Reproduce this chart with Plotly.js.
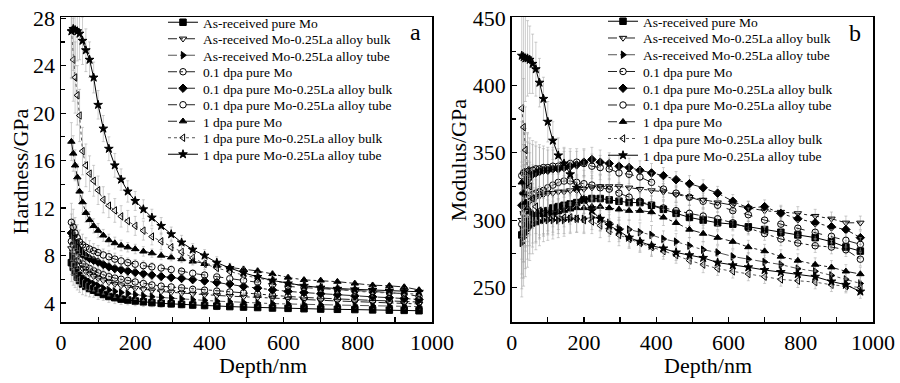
<!DOCTYPE html>
<html>
<head>
<meta charset="utf-8">
<script src="https://cdn.plot.ly/plotly-3.0.1.min.js"></script>
<style>
  html, body { margin: 0; padding: 0; background: #fff; }
  #chart { width: 900px; height: 383px; }
</style>
</head>
<body>
<div id="chart"></div>
<script>
// ---------------- data ----------------
var depth = [28, 33, 38, 44, 50, 58, 67, 77, 88, 100, 114, 129, 145, 162, 180, 200, 222, 245, 270, 297, 325, 355, 387, 420, 455, 492, 530, 570, 612, 655, 700, 745, 792, 840, 885, 925, 965];

var seriesNames = ['As-received pure Mo', 'As-received Mo-0.25La alloy bulk', 'As-received Mo-0.25La alloy tube',
  '0.1 dpa pure Mo', '0.1 dpa pure Mo-0.25La alloy bulk', '0.1 dpa pure Mo-0.25La alloy tube',
  '1 dpa pure Mo', '1 dpa pure Mo-0.25La alloy bulk', '1 dpa pure Mo-0.25La alloy tube'];

var xTitle = 'Depth/nm';
var yTitleA = 'Hardness/GPa';
var yTitleB = 'Modulus/GPa';

// Hardness (GPa), panel a
var hAsPure = [7.4, 7.0, 6.6, 6.2, 5.9, 5.6, 5.4, 5.22, 5.08, 4.9, 4.72, 4.55, 4.45, 4.33, 4.25, 4.17, 4.1, 4.03, 3.97, 3.93, 3.88, 3.83, 3.79, 3.74, 3.7, 3.66, 3.62, 3.58, 3.55, 3.52, 3.49, 3.47, 3.45, 3.42, 3.4, 3.38, 3.35];
var hAsBulk = [8.6, 8.3, 7.9, 7.5, 7.2, 6.9, 6.65, 6.45, 6.25, 6.08, 5.9, 5.75, 5.6, 5.47, 5.35, 5.25, 5.15, 5.05, 4.97, 4.9, 4.83, 4.76, 4.7, 4.64, 4.58, 4.52, 4.46, 4.4, 4.34, 4.28, 4.22, 4.17, 4.12, 4.07, 4.02, 3.97, 3.92];
var hAsTube = [8.0, 7.8, 7.3, 6.9, 6.5, 6.2, 5.95, 5.78, 5.62, 5.45, 5.25, 5.1, 4.98, 4.88, 4.8, 4.7, 4.6, 4.53, 4.47, 4.4, 4.34, 4.27, 4.22, 4.16, 4.1, 4.05, 4.0, 3.95, 3.92, 3.88, 3.85, 3.82, 3.8, 3.77, 3.74, 3.72, 3.7];
var h01Pure = [9.2, 8.9, 8.4, 8.0, 7.65, 7.3, 7.05, 6.9, 6.72, 6.55, 6.38, 6.22, 6.1, 6.0, 5.9, 5.77, 5.64, 5.52, 5.42, 5.35, 5.28, 5.15, 5.08, 5.0, 4.93, 4.85, 4.75, 4.65, 4.55, 4.47, 4.4, 4.34, 4.28, 4.22, 4.18, 4.12, 4.08];
var h01Bulk = [9.9, 9.6, 9.1, 8.7, 8.4, 8.15, 7.95, 7.75, 7.6, 7.45, 7.25, 7.05, 6.9, 6.8, 6.7, 6.58, 6.47, 6.35, 6.24, 6.15, 6.07, 5.97, 5.86, 5.73, 5.6, 5.4, 5.25, 5.1, 4.98, 4.88, 4.78, 4.7, 4.6, 4.52, 4.45, 4.38, 4.3];
var h01Tube = [10.8, 10.4, 9.9, 9.5, 9.15, 8.9, 8.7, 8.55, 8.4, 8.25, 8.05, 7.9, 7.7, 7.55, 7.4, 7.27, 7.15, 7.05, 6.95, 6.82, 6.68, 6.5, 6.35, 6.2, 6.05, 5.9, 5.75, 5.55, 5.4, 5.3, 5.2, 5.12, 5.05, 4.98, 4.9, 4.78, 4.55];
var h1Pure  = [17.6, 16.6, 15.6, 14.6, 13.4, 12.5, 11.6, 11.0, 10.5, 10.1, 9.7, 9.3, 9.05, 8.85, 8.7, 8.55, 8.35, 8.2, 8.0, 7.85, 7.7, 7.5, 7.3, 7.15, 7.0, 6.85, 6.7, 6.45, 6.15, 5.95, 5.9, 5.8, 5.65, 5.5, 5.45, 5.35, 5.1];
var h1Bulk  = [27.0, 24.5, 23.0, 21.5, 19.8, 16.8, 15.6, 14.9, 14.3, 13.5, 12.7, 12.2, 11.8, 11.3, 10.9, 10.5, 10.1, 9.6, 9.2, 8.7, 8.3, 7.8, 7.3, 6.95, 6.65, 6.35, 6.1, 5.85, 5.65, 5.45, 5.3, 5.15, 5.0, 4.9, 4.85, 4.8, 4.75];
var h1Tube  = [26.9, 27.1, 27.0, 26.9, 26.7, 26.1, 25.3, 24.5, 23.0, 20.7, 18.7, 17.0, 15.6, 14.4, 13.4, 12.6, 11.9, 11.2, 10.5, 9.8, 9.1, 8.5, 8.0, 7.4, 6.95, 6.55, 6.2, 5.9, 5.65, 5.45, 5.3, 5.2, 5.15, 5.1, 5.05, 5.0, 4.95];

// Modulus (GPa), panel b
var mAsPure = [289, 293, 296, 299, 300, 302, 303, 305, 306, 307, 309, 310, 311, 312, 313, 315, 316, 316, 315, 314, 313, 313, 311, 308, 305, 302, 300, 298, 297, 295, 293, 291, 289, 287, 284, 280, 277];
var mAsBulk = [300, 305, 309, 312, 314, 316, 317, 318, 319, 320, 320, 321, 321, 322, 322, 323, 324, 325, 325, 325, 324, 323, 322, 321, 319, 317, 315, 313, 311, 309, 307, 306, 305, 303, 301, 298, 298];
var mAsTube = [283, 287, 290, 293, 295, 297, 298, 299, 300, 300, 300, 300, 300, 301, 301, 301, 302, 301, 298, 294, 293, 291, 289, 286, 284, 281, 278, 276, 273, 271, 269, 267, 264, 262, 259, 256, 253];
var m01Pure = [297, 305, 312, 316, 318, 319, 320, 321, 322, 324, 326, 328, 329, 329, 328, 327, 326, 324, 323, 320, 317, 314, 311, 309, 307, 305, 303, 301, 298, 294, 290, 286, 283, 281, 280, 278, 271];
var m01Bulk = [311, 320, 326, 330, 332, 334, 335, 336, 337, 337, 338, 338, 339, 340, 341, 343, 345, 343, 342, 340, 339, 337, 335, 333, 330, 327, 324, 320, 314, 309, 310, 305, 301, 298, 295, 293, 287];
var m01Tube = [333, 335, 336, 336, 336, 337, 338, 338, 339, 339, 340, 340, 341, 342, 343, 342, 340, 339, 338, 335, 334, 332, 328, 323, 320, 317, 314, 311, 307, 304, 300, 297, 294, 291, 288, 285, 282];
var m1Pure  = [328, 320, 313, 309, 306, 305, 304, 304, 304, 305, 305, 306, 307, 308, 309, 309, 310, 310, 309, 308, 307, 307, 306, 302, 298, 293, 290, 287, 284, 280, 277, 273, 270, 267, 265, 262, 260];
var m1Bulk  = [383, 369, 352, 337, 325, 316, 310, 307, 305, 304, 303, 303, 302, 302, 301, 300, 299, 296, 292, 289, 286, 283, 280, 277, 274, 270, 267, 264, 262, 260, 258, 256, 255, 254, 252, 251, 250];
var m1Tube  = [422, 421, 420, 420, 419, 416, 412, 402, 390, 373, 359, 348, 342, 334, 324, 315, 307, 301, 296, 292, 287, 284, 281, 279, 276, 274, 272, 268.5, 266.5, 265, 263, 261.5, 260, 258, 254.5, 252, 247];

// error bar half-widths
var errA     = [1.6, 1.5, 1.3, 1.1, 1.0, 0.9, 0.8, 0.7, 0.6, 0.6, 0.5, 0.5, 0.5, 0.45, 0.4, 0.4, 0.4, 0.35, 0.35, 0.3, 0.3, 0.3, 0.3, 0.3, 0.25, 0.25, 0.25, 0.25, 0.2, 0.2, 0.2, 0.2, 0.2, 0.2, 0.2, 0.2, 0.2];
var errAHigh = [4, 3.5, 3, 2.5, 2.2, 2, 1.8, 1.5, 1.3, 1.2, 1.1, 1.0, 1.0, 0.9, 0.9, 0.8, 0.8, 0.7, 0.7, 0.6, 0.6, 0.5, 0.5, 0.5, 0.4, 0.4, 0.4, 0.4, 0.3, 0.3, 0.3, 0.3, 0.3, 0.3, 0.3, 0.3, 0.3];
var errB     = [40, 36, 32, 28, 25, 22, 20, 18, 16, 15, 14, 13, 12, 11, 10, 10, 9, 9, 8, 8, 7, 7, 7, 6, 6, 6, 6, 5, 5, 5, 5, 5, 5, 5, 5, 5, 5];

var hardness = [hAsPure, hAsBulk, hAsTube, h01Pure, h01Bulk, h01Tube, h1Pure, h1Bulk, h1Tube];
var modulus  = [mAsPure, mAsBulk, mAsTube, m01Pure, m01Bulk, m01Tube, m1Pure, m1Bulk, m1Tube];
var hardErr  = [errA, errA, errA, errA, errA, errA, errA, errAHigh, errAHigh];
var modErr   = [errB, errB, errB, errB, errB, errB, errB, errB, errB];

// ---------------- styles ----------------
var symbols = ['square', 'triangle-down-open', 'triangle-right', 'circle-open', 'diamond', 'circle-open', 'triangle-up', 'triangle-left-open', 'star'];
var dashes  = ['solid', 'dashdot', 'dashdot', 'dashdot', 'dashdot', 'dash', 'dashdot', 'dot', 'solid'];
var lineCol = ['#000', '#222', '#555', '#222', '#222', '#222', '#222', '#555', '#000'];

var serif = '"Liberation Serif", "Times New Roman", Times, serif';

var traces = [];
function addPanel(values, errs, xa, ya, legendId) {
  for (var i = 0; i < values.length; i++) {
    traces.push({
      type: 'scatter', mode: 'lines+markers',
      x: depth, y: values[i], name: seriesNames[i],
      xaxis: xa, yaxis: ya, legend: legendId,
      line: { color: lineCol[i], width: 1, dash: dashes[i] },
      marker: { symbol: symbols[i], size: 6.5, color: '#000', line: { color: '#000', width: 1 } },
      error_y: { type: 'data', array: errs[i], visible: true, color: 'rgba(165,165,165,0.55)', thickness: 1, width: 1.5 }
    });
  }
}
addPanel(hardness, hardErr, 'x', 'y', 'legend');
addPanel(modulus, modErr, 'x2', 'y2', 'legend2');

var tickFont = { family: serif, size: 22, color: '#000' };
var titleFont = { family: serif, size: 22, color: '#000' };

function xAxis(domain, anchor) {
  return {
    domain: domain, anchor: anchor, range: [0, 1000], tick0: 0, dtick: 200,
    ticks: 'inside', ticklen: 5, tickwidth: 1.2, tickcolor: '#000',
    minor: { dtick: 100, ticks: 'inside', ticklen: 5, tickwidth: 1.2, tickcolor: '#000', showgrid: false },
    showline: true, linewidth: 1.5, linecolor: '#000', mirror: true,
    showgrid: false, zeroline: false, tickfont: tickFont
  };
}
function yAxis(range, dtick, minorDtick, anchor) {
  return {
    anchor: anchor, range: range, tick0: 0, dtick: dtick, domain: [0, 1],
    ticks: 'inside', ticklen: 5, tickwidth: 1.2, tickcolor: '#000',
    minor: { dtick: minorDtick, ticks: 'inside', ticklen: 4, tickwidth: 1.2, tickcolor: '#000', showgrid: false },
    showline: true, linewidth: 1.5, linecolor: '#000', mirror: true,
    showgrid: false, zeroline: false, tickfont: tickFont
  };
}

var legendFont = { family: serif, size: 13.5, color: '#000' };

function titleAnno(text, x, y, angle) {
  return { text: text, xref: 'paper', yref: 'paper', x: x, y: y, xanchor: 'center', yanchor: 'middle',
           textangle: angle, showarrow: false, font: titleFont };
}

var layout = {
  width: 900, height: 383,
  margin: { l: 61, r: 27, t: 13, b: 61 },
  font: { family: serif, color: '#000' },
  paper_bgcolor: '#fff', plot_bgcolor: '#fff',
  showlegend: true,
  xaxis: xAxis([0, 0.4569], 'y'),
  yaxis: yAxis([2.4, 28.1], 4, 2, 'x'),
  xaxis2: xAxis([0.555, 1.0], 'y2'),
  yaxis2: yAxis([224.4, 450.7], 50, 25, 'x2'),
  legend: { x: 0.1256, y: 1.016, xanchor: 'left', yanchor: 'top', bgcolor: 'rgba(0,0,0,0)', borderwidth: 0, font: legendFont },
  legend2: { x: 0.6675, y: 1.016, xanchor: 'left', yanchor: 'top', bgcolor: 'rgba(0,0,0,0)', borderwidth: 0, font: legendFont },
  annotations: [
    titleAnno(xTitle, 0.2488, -0.143, 0),
    titleAnno(xTitle, 0.7968, -0.143, 0),
    titleAnno(yTitleA, -0.0498, 0.492, -90),
    titleAnno(yTitleB, 0.4897, 0.529, -90),
    { text: 'a', xref: 'paper', yref: 'paper', x: 0.436, y: 0.951, xanchor: 'center', yanchor: 'middle', showarrow: false, font: { family: serif, size: 24, color: '#000' } },
    { text: 'b', xref: 'paper', yref: 'paper', x: 0.978, y: 0.947, xanchor: 'center', yanchor: 'middle', showarrow: false, font: { family: serif, size: 24, color: '#000' } }
  ]
};

// place legend rows at the reference's tighter spacing (Plotly enforces a minimum row height)
function placeLegend(gd, cls, y0, gap) {
  var lg = gd.querySelector('g.' + cls);
  if (!lg) return;
  var items = lg.querySelectorAll('g.traces');
  var rootTop = gd.getBoundingClientRect().top;
  function parse(el) {
    var t = el.getAttribute('transform') || '';
    var m = t.match(/translate\(\s*([-\d.e]+)[\s,]*([-\d.e]*)\s*\)/);
    return m ? [parseFloat(m[1]), parseFloat(m[2] || 0)] : [0, 0];
  }
  for (var i = 0; i < items.length; i++) {
    var txt = items[i].querySelector('text') || items[i];
    var r = txt.getBoundingClientRect();
    var cur = r.top + r.height / 2 - rootTop;
    var target = y0 + i * gap;
    if (Math.abs(target - cur) < 0.05) continue;
    var p = parse(items[i]);
    items[i].setAttribute('transform', 'translate(' + p[0] + ',' + (p[1] + target - cur) + ')');
  }
}
function fixLegends(gd) {
  placeLegend(gd, 'legend', 23, 16.5);
  placeLegend(gd, 'legend2', 22, 16.75);
}

Plotly.newPlot('chart', traces, layout, { staticPlot: true, displayModeBar: false }).then(function (gd) {
  fixLegends(gd);
  gd.on('plotly_afterplot', function () { fixLegends(gd); });
});
</script>
</body>
</html>
